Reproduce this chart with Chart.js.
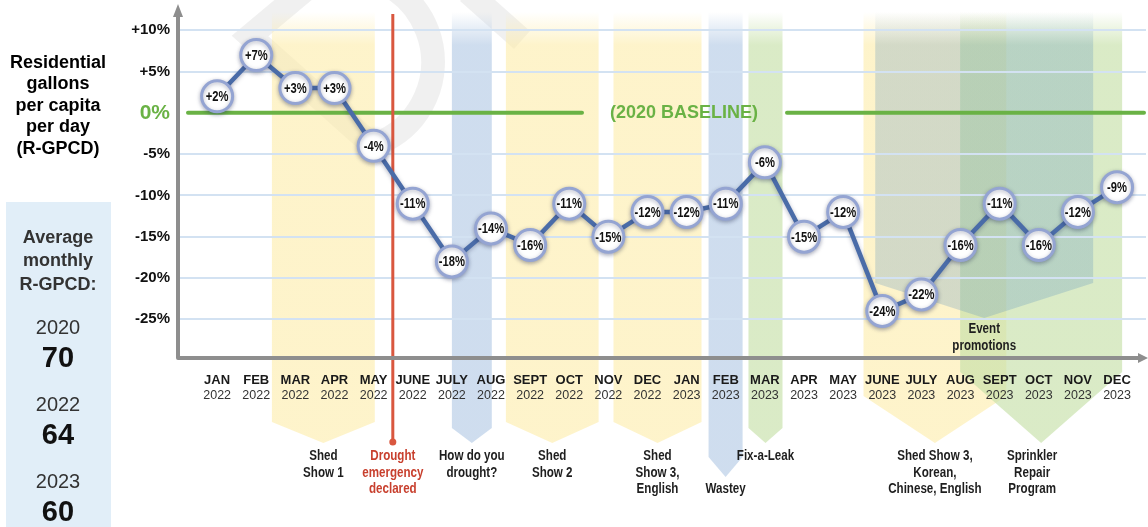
<!DOCTYPE html>
<html>
<head>
<meta charset="utf-8">
<script src="https://cdn.jsdelivr.net/npm/chart.js@4.4.1/dist/chart.umd.min.js"></script>
<style>
  html, body { margin: 0; padding: 0; background: #fff; }
  #wrap { width: 1148px; height: 527px; position: relative; }
</style>
</head>
<body>
<div id="wrap"><canvas id="chartRgpcd"></canvas></div>
<script>
// Monthly change in residential gallons per capita per day vs 2020
const months = ['JAN', 'FEB', 'MAR', 'APR', 'MAY', 'JUNE', 'JULY', 'AUG', 'SEPT', 'OCT', 'NOV', 'DEC',
                'JAN', 'FEB', 'MAR', 'APR', 'MAY', 'JUNE', 'JULY', 'AUG', 'SEPT', 'OCT', 'NOV', 'DEC'];
const years = ['2022', '2022', '2022', '2022', '2022', '2022', '2022', '2022', '2022', '2022', '2022', '2022',
               '2023', '2023', '2023', '2023', '2023', '2023', '2023', '2023', '2023', '2023', '2023', '2023'];
const changePct = [2, 7, 3, 3, -4, -11, -18, -14, -16, -11, -15, -12,
                   -12, -11, -6, -15, -12, -24, -22, -16, -11, -16, -12, -9];
const yTicks = [10, 5, 0, -5, -10, -15, -20, -25];
const avgYears = ['2020', '2022', '2023'];
const avgRgpcd = [70, 64, 60];

// campaigns (x in month index units)
const campaigns = [
    { lines: ['Shed', 'Show 1'], from: 1.4, to: 4.03, tone: 'yellow', sideY: 422, tipY: 443 },
    { lines: ['How do you', 'drought?'], from: 6.0, to: 7.02, tone: 'blue', sideY: 428, tipY: 443 },
    { lines: ['Shed', 'Show 2'], from: 7.38, to: 9.75, tone: 'yellow', sideY: 422, tipY: 443 },
    { lines: ['Shed', 'Show 3,', 'English'], from: 10.13, to: 12.38, tone: 'yellow', sideY: 422, tipY: 443 },
    { lines: ['Wastey'], from: 12.56, to: 13.43, tone: 'blue', sideY: 457, tipY: 477, textY: 489 },
    { lines: ['Fix-a-Leak'], from: 13.58, to: 14.45, tone: 'green', sideY: 428, tipY: 443 },
    { lines: ['Shed Show 3,', 'Korean,', 'Chinese, English'], from: 16.52, to: 20.17, tone: 'yellow', sideY: 396, tipY: 443 },
    { lines: ['Sprinkler', 'Repair', 'Program'], from: 18.99, to: 23.13, tone: 'green', sideY: 372, tipY: 443, textDx: -9 }
];
const eventPromo = { lines: ['Event', 'promotions'], from: 16.82, to: 22.39, tone: 'gray', sideY: 283, tipY: 318, textY: 329 };
const droughtDeclared = { lines: ['Drought', 'emergency', 'declared'], at: 4.49 };

const tones = {
    yellow: [253, 236, 168, 0.6],
    blue: [188, 208, 232, 0.72],
    green: [198, 224, 168, 0.65],
    gray: [84, 140, 188, 0.25]
};

const SANS = "'Liberation Sans', Arial, sans-serif";
const SQUEEZE = 0.8;   // narrow look

function rgba(t, a) {
    return 'rgba(' + t[0] + ',' + t[1] + ',' + t[2] + ',' + a + ')';
}

function isZero(c) {
    return !!(c && c.tick && c.tick.value === 0);
}

function narrowText(ctx, text, x, y) {
    ctx.save();
    ctx.translate(x, y);
    ctx.scale(SQUEEZE, 1);
    ctx.fillText(text, 0, 0);
    ctx.restore();
}

function drawBand(ctx, x, band) {
    const x0 = x.getPixelForValue(band.from);
    const x1 = x.getPixelForValue(band.to);
    const t = tones[band.tone];
    const grad = ctx.createLinearGradient(0, 12, 0, 45);
    grad.addColorStop(0, rgba(t, 0));
    grad.addColorStop(1, rgba(t, t[3]));
    ctx.fillStyle = grad;
    ctx.beginPath();
    ctx.moveTo(x0, 12);
    ctx.lineTo(x1, 12);
    ctx.lineTo(x1, band.sideY);
    ctx.lineTo((x0 + x1) / 2, band.tipY);
    ctx.lineTo(x0, band.sideY);
    ctx.closePath();
    ctx.fill();
}

function drawLines(ctx, lines, cx, y0, step, narrow) {
    lines.forEach((l, i) => {
        if (narrow) narrowText(ctx, l, cx, y0 + i * step);
        else ctx.fillText(l, cx, y0 + i * step);
    });
}

const infographic = {
    id: 'infographic',
    beforeDraw(chart) {
        const ctx = chart.ctx;
        const x = chart.scales.x;
        ctx.save();
        ctx.fillStyle = '#fff';
        ctx.fillRect(0, 0, chart.width, chart.height);

        // faint watermark
        ctx.strokeStyle = 'rgba(0,0,0,0.06)';
        ctx.lineWidth = 24;
        ctx.beginPath();
        ctx.moveTo(305, -10);
        ctx.lineTo(250, 36);
        ctx.lineTo(378, 150);
        ctx.stroke();
        ctx.beginPath();
        ctx.arc(345, 62, 88, -1.15, 1.1);
        ctx.stroke();
        ctx.beginPath();
        ctx.moveTo(468, -8);
        ctx.lineTo(522, 40);
        ctx.stroke();

        campaigns.forEach(b => drawBand(ctx, x, b));
        drawBand(ctx, x, eventPromo);
        ctx.restore();
    },
    beforeDatasetsDraw(chart) {
        const ctx = chart.ctx;
        const { left, right, bottom } = chart.chartArea;
        const x = chart.scales.x;
        const y = chart.scales.y;
        ctx.save();

        // baseline
        const y0 = y.getPixelForValue(0);
        ctx.strokeStyle = '#6ab245';
        ctx.lineWidth = 4;
        ctx.lineCap = 'round';
        ctx.beginPath();
        ctx.moveTo(left + 10, y0);
        ctx.lineTo(582, y0);
        ctx.moveTo(787, y0);
        ctx.lineTo(right - 2, y0);
        ctx.stroke();
        ctx.fillStyle = '#6ab245';
        ctx.font = 'bold 18px ' + SANS;
        ctx.textAlign = 'center';
        ctx.textBaseline = 'middle';
        ctx.fillText('(2020 BASELINE)', 684, y0);

        // drought emergency line
        const xd = x.getPixelForValue(droughtDeclared.at);
        ctx.strokeStyle = '#d9573f';
        ctx.lineWidth = 3;
        ctx.lineCap = 'butt';
        ctx.beginPath();
        ctx.moveTo(xd, 14);
        ctx.lineTo(xd, 442);
        ctx.stroke();
        ctx.fillStyle = '#d9573f';
        ctx.beginPath();
        ctx.arc(xd, 442, 3.5, 0, Math.PI * 2);
        ctx.fill();

        // axes
        ctx.strokeStyle = '#8e8e8e';
        ctx.fillStyle = '#8e8e8e';
        ctx.lineWidth = 4;
        ctx.lineJoin = 'round';
        ctx.beginPath();
        ctx.moveTo(left, 14);
        ctx.lineTo(left, bottom);
        ctx.lineTo(chart.width - 4, bottom);
        ctx.stroke();
        ctx.beginPath();
        ctx.moveTo(left, 4);
        ctx.lineTo(left - 5, 17);
        ctx.lineTo(left + 5, 17);
        ctx.closePath();
        ctx.fill();
        ctx.beginPath();
        ctx.moveTo(chart.width, bottom);
        ctx.lineTo(chart.width - 10, bottom - 5);
        ctx.lineTo(chart.width - 10, bottom + 5);
        ctx.closePath();
        ctx.fill();

        // soft shadow under the point bubbles
        ctx.restore();
        ctx.save();
        ctx.shadowColor = 'rgba(40,50,90,0.35)';
        ctx.shadowBlur = 4;
        ctx.shadowOffsetY = 1.5;
    },
    afterDatasetsDraw(chart) {
        const ctx = chart.ctx;
        ctx.restore();
        const meta = chart.getDatasetMeta(0);
        ctx.save();
        ctx.fillStyle = '#111';
        ctx.font = 'bold 14px ' + SANS;
        ctx.textAlign = 'center';
        ctx.textBaseline = 'middle';
        meta.data.forEach((p, i) => {
            const v = changePct[i];
            narrowText(ctx, (v > 0 ? '+' : '') + v + '%', p.x, p.y + 1);
        });
        ctx.restore();
    },
    afterDraw(chart) {
        const ctx = chart.ctx;
        const x = chart.scales.x;
        ctx.save();
        ctx.textAlign = 'center';
        ctx.textBaseline = 'middle';

        // month / year labels
        months.forEach((m, i) => {
            const px = x.getPixelForValue(i);
            ctx.fillStyle = '#1a1a1a';
            ctx.font = 'bold 13px ' + SANS;
            ctx.fillText(m, px, 380);
            ctx.fillStyle = '#333';
            ctx.font = '12.5px ' + SANS;
            ctx.fillText(years[i], px, 396);
        });

        // campaign labels
        ctx.font = 'bold 14.5px ' + SANS;
        ctx.fillStyle = '#1e1e1e';
        campaigns.forEach(b => {
            const cx = (x.getPixelForValue(b.from) + x.getPixelForValue(b.to)) / 2 + (b.textDx || 0);
            drawLines(ctx, b.lines, cx, b.textY || 456, 16.5, true);
        });
        const ex = (x.getPixelForValue(eventPromo.from) + x.getPixelForValue(eventPromo.to)) / 2;
        drawLines(ctx, eventPromo.lines, ex, eventPromo.textY, 16.5, true);
        ctx.fillStyle = '#c8402e';
        drawLines(ctx, droughtDeclared.lines, x.getPixelForValue(droughtDeclared.at), 456, 16.5, true);

        // left title
        ctx.fillStyle = '#000';
        ctx.font = 'bold 18px ' + SANS;
        drawLines(ctx, ['Residential', 'gallons', 'per capita', 'per day', '(R-GPCD)'], 58, 63, 21.5, false);

        // average panel
        ctx.fillStyle = '#e1eef8';
        ctx.fillRect(6, 202, 105, 325);
        ctx.fillStyle = '#333';
        ctx.font = 'bold 18px ' + SANS;
        drawLines(ctx, ['Average', 'monthly', 'R-GPCD:'], 58, 238, 23.5, false);
        avgYears.forEach((yr, i) => {
            ctx.fillStyle = '#333';
            ctx.font = '20px ' + SANS;
            ctx.fillText(yr, 58, 328 + i * 77);
            ctx.fillStyle = '#111';
            ctx.font = 'bold 29px ' + SANS;
            ctx.fillText(String(avgRgpcd[i]), 58, 359 + i * 77);
        });
        ctx.restore();
    }
};

new Chart('chartRgpcd', {
    type: 'line',
    data: {
        datasets: [{
            data: changePct.map((v, i) => ({ x: i, y: v })),
            borderColor: '#4a6ca8',
            borderWidth: 4.5,
            pointRadius: 15.5,
            pointBackgroundColor: '#fff',
            pointBorderColor: '#94a4d2',
            pointBorderWidth: 3,
            tension: 0
        }]
    },
    options: {
        responsive: true,
        maintainAspectRatio: false,
        animation: false,
        layout: { autoPadding: false, padding: { left: 118, right: 2, top: 8, bottom: 169 } },
        scales: {
            x: { type: 'linear', min: -1, max: 23.74, display: false },
            y: {
                min: -29.7,
                max: 12.7,
                afterBuildTicks: s => { s.ticks = yTicks.map(v => ({ value: v })); },
                afterFit: s => {
                    s.width = 60;
                    s.paddingTop = 0;
                    s.paddingBottom = 0;
                },
                border: { display: false },
                grid: {
                    drawTicks: false,
                    lineWidth: 2,
                    color: c => isZero(c) ? 'rgba(0,0,0,0)' : '#d3e2f2'
                },
                ticks: {
                    padding: 8,
                    callback: v => (v > 0 ? '+' : '') + v + '%',
                    color: c => isZero(c) ? '#6ab245' : '#111',
                    font: c => isZero(c)
                        ? { family: SANS, size: 21, weight: 'bold' }
                        : { family: SANS, size: 15, weight: 'bold' }
                }
            }
        },
        plugins: {
            legend: { display: false },
            tooltip: { enabled: false }
        }
    },
    plugins: [infographic]
});
</script>
</body>
</html>
